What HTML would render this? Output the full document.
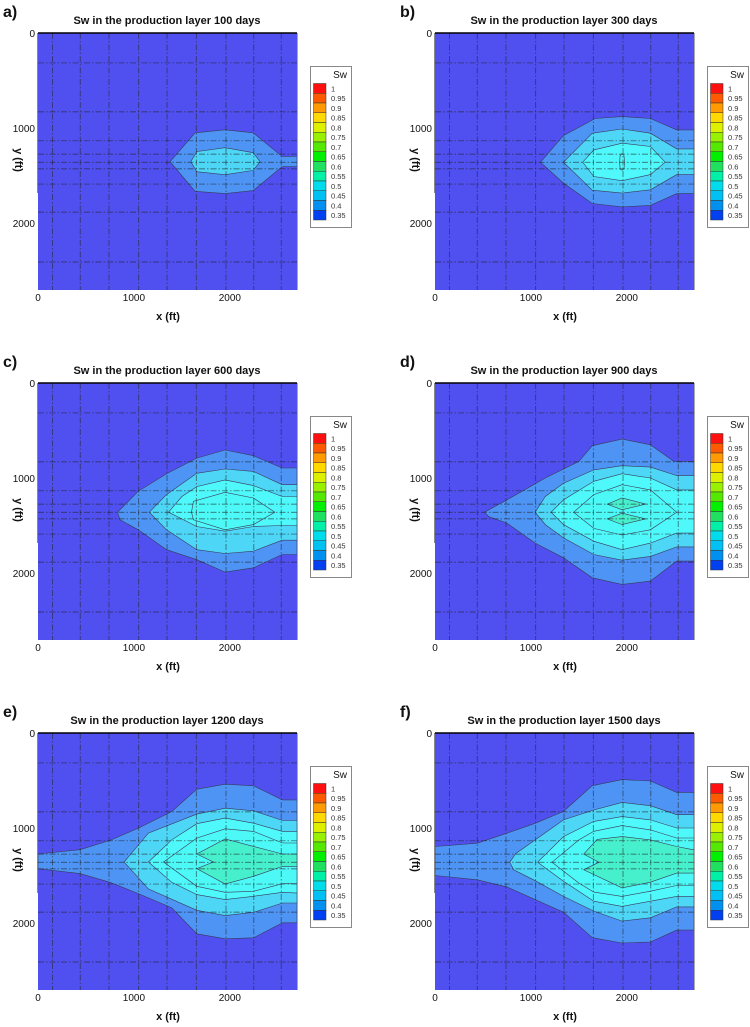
<!DOCTYPE html>
<html><head><meta charset="utf-8">
<style>
html,body{margin:0;padding:0;background:#fff;}
svg{display:block;}
text{font-family:"Liberation Sans","DejaVu Sans",sans-serif;}
</style></head>
<body>
<svg id="fig" width="750" height="1027" viewBox="0 0 750 1027" xmlns="http://www.w3.org/2000/svg"></svg>
<script>
// ---- data ----
const panelLetters = ["a)","b)","c)","d)","e)","f)"];
const panelDays = [100, 300, 600, 900, 1200, 1500];
const xTicks = [0, 1000, 2000];
const yTicks = [0, 1000, 2000];
const legendLevels = ["1","0.95","0.9","0.85","0.8","0.75","0.7","0.65","0.6","0.55","0.5","0.45","0.4","0.35"];
const legendColors = ["#ff1010","#ff5a00","#ff9a00","#ffd800","#ddf000","#99f000","#55e800","#00f000","#20e060","#00f0a8","#00dcec","#00c0f4","#0090f0","#0040f0"];
const levelColors = ["#5050f0","#4d94f5","#4dd6f6","#4ff8fa","#4cf9f6","#47f0cc"];
const gridX = [150,440,740,1050,1345,1650,1960,2250,2535];
const gridY = [315,830,1135,1275,1360,1430,1590,1885,2410];

const contoursA = [
 [1,[[1377,1355],[1638,1050],[1950,1019],[2243,1050],[2545,1300],[2700,1300],[2700,1407],[2545,1407],[2243,1659],[1950,1690],[1638,1666]]],
 [2,[[1593,1355],[1655,1248],[1950,1207],[2243,1260],[2315,1355],[2243,1446],[1950,1491],[1655,1460]]]
];
const contoursB = [
 [1,[[1100,1360],[1340,1080],[1670,900],[1950,880],[2245,900],[2520,1020],[2700,1020],[2700,1690],[2520,1690],[2245,1815],[1950,1830],[1640,1795],[1340,1580]]],
 [2,[[1340,1360],[1640,1055],[1950,1010],[2245,1055],[2520,1220],[2700,1220],[2700,1490],[2520,1490],[2245,1650],[1950,1685],[1640,1655]]],
 [3,[[1540,1360],[1655,1230],[1950,1160],[2245,1195],[2400,1360],[2245,1490],[1950,1555],[1655,1510]]],
 [4,[[1930,1290],[1950,1270],[1970,1290],[1975,1360],[1970,1430],[1950,1445],[1930,1430],[1925,1360]]]
];
const contoursC = [
 [1,[[830,1360],[1045,1140],[1340,955],[1655,790],[1950,705],[2245,765],[2545,895],[2700,895],[2700,1805],[2545,1805],[2245,1945],[1950,1990],[1655,1860],[1340,1755],[1045,1545],[855,1440]]],
 [2,[[1160,1360],[1340,1175],[1655,950],[1950,905],[2245,930],[2545,1070],[2700,1070],[2700,1655],[2545,1655],[2245,1770],[1950,1795],[1655,1755],[1340,1545]]],
 [3,[[1360,1360],[1500,1195],[1655,1090],[1950,1020],[2245,1080],[2545,1195],[2700,1195],[2700,1500],[2545,1500],[2245,1510],[1950,1560],[1655,1510]]],
 [4,[[1600,1360],[1620,1245],[1950,1150],[2245,1210],[2470,1360],[2245,1490],[1950,1545],[1620,1440]]]
];
const contoursD = [
 [1,[[515,1360],[750,1230],[1150,1000],[1500,825],[1640,660],[1950,590],[2245,650],[2490,825],[2700,825],[2700,1875],[2520,1875],[2245,2085],[1950,2120],[1640,2050],[1340,1840],[1045,1685],[750,1475],[560,1405]]],
 [2,[[1045,1360],[1150,1195],[1340,1055],[1655,915],[1950,870],[2245,885],[2520,975],[2700,975],[2700,1725],[2520,1725],[2245,1825],[1950,1865],[1655,1805],[1340,1630],[1150,1490]]],
 [3,[[1210,1360],[1340,1230],[1655,1035],[1950,955],[2245,1000],[2520,1125],[2700,1125],[2700,1580],[2520,1580],[2245,1685],[1950,1755],[1655,1665],[1340,1490]]],
 [4,[[1445,1360],[1655,1175],[1950,1070],[2245,1125],[2520,1360],[2245,1545],[1950,1600],[1655,1530]]],
 [5,[[1795,1275],[1950,1210],[2195,1275],[1950,1335]]],
 [5,[[1795,1430],[1950,1370],[2195,1430],[1950,1490]]]
];
const contoursE = [
 [1,[[0,1274],[438,1228],[751,1130],[1047,1001],[1395,826],[1655,591],[1951,539],[2247,556],[2549,704],[2700,704],[2700,1998],[2549,1998],[2247,2156],[1951,2166],[1655,2114],[1395,1841],[1047,1690],[751,1571],[438,1480],[0,1428]]],
 [2,[[898,1358],[1151,1054],[1655,854],[1951,791],[2247,819],[2549,921],[2700,921],[2700,1789],[2549,1789],[2247,1887],[1951,1922],[1655,1866],[1151,1641]]],
 [3,[[1151,1358],[1395,1124],[1655,955],[1951,896],[2247,949],[2549,1036],[2700,1036],[2700,1684],[2549,1677],[2247,1719],[1951,1754],[1655,1701],[1395,1571]]],
 [4,[[1308,1358],[1655,1106],[1951,1008],[2247,1036],[2549,1158],[2700,1158],[2700,1586],[2549,1586],[2247,1666],[1951,1677],[1655,1614]]],
 [5,[[1655,1274],[1829,1358],[1655,1428],[1951,1589],[2247,1508],[2549,1404],[2700,1404],[2700,1274],[2549,1274],[2247,1194],[1951,1116]]]
];
const contoursF = [
 [1,[[0,1195],[440,1160],[750,1055],[1045,950],[1340,825],[1640,555],[1950,490],[2245,505],[2520,625],[2700,625],[2700,2075],[2520,2075],[2245,2200],[1950,2210],[1640,2155],[1340,1885],[1045,1755],[750,1620],[440,1545],[0,1500]]],
 [2,[[780,1360],[840,1270],[1045,1125],[1340,915],[1655,810],[1950,730],[2245,765],[2520,860],[2700,860],[2700,1830],[2520,1830],[2245,1945],[1950,1980],[1655,1875],[1340,1720],[1045,1555],[820,1440]]],
 [3,[[1070,1360],[1340,1090],[1655,930],[1950,880],[2245,915],[2520,1000],[2700,1000],[2700,1720],[2520,1720],[2245,1770],[1950,1825],[1655,1770],[1340,1560]]],
 [4,[[1220,1360],[1500,1125],[1655,1035],[1950,975],[2245,1020],[2520,1105],[2700,1105],[2700,1605],[2520,1605],[2245,1665],[1950,1720],[1655,1675],[1500,1580]]],
 [5,[[1550,1275],[1710,1360],[1550,1440],[1950,1630],[2245,1570],[2520,1475],[2700,1475],[2700,1230],[2520,1195],[2245,1125],[1950,1090],[1690,1120]]]
];
const allContours = [contoursA, contoursB, contoursC, contoursD, contoursE, contoursF];

// ---- drawing ----
const NS = "http://www.w3.org/2000/svg";
const svg = document.getElementById("fig");
const PW = 259, PH = 257, XMAX = 2700, YMAX = 2705;
function mk(tag, attrs, parent){ const e=document.createElementNS(NS,tag); for(const k in attrs) e.setAttribute(k,attrs[k]); (parent||svg).appendChild(e); return e; }

function drawPanel(i){
  const ox = (i%2)*397, oy = Math.floor(i/2)*350;
  const x0 = 38+ox, y0 = 33+oy;
  const sx = v => x0 + v/XMAX*PW;
  const sy = v => y0 + v/YMAX*PH;
  const g = mk("g", {});
  
  

  const lt = mk("text",{x:ox+3,y:oy+17,"font-size":"16","font-weight":"bold","font-family":"DejaVu Sans, sans-serif",fill:"#111"},g);
  lt.textContent = panelLetters[i];
  
  

  const tt = mk("text",{x:ox+167,y:oy+24,"font-size":"11","font-weight":"bold","text-anchor":"middle",fill:"#111"},g);
  tt.textContent = "Sw in the production layer  " + panelDays[i] + " days";
  
  

  const bg = mk("rect",{x:x0,y:y0,width:PW,height:PH,fill:levelColors[0]},g);
  
  

  allContours[i].forEach(c => {
    const p = mk("polygon",{points:c[1].map(q=>sx(q[0]).toFixed(1)+","+sy(q[1]).toFixed(1)).join(" "),fill:levelColors[c[0]],stroke:"#3a3a5a","stroke-width":"0.6"},g);
    
    
  });

  gridX.forEach(v => {
    const l = mk("line",{x1:sx(v),x2:sx(v),y1:y0,y2:y0+PH,stroke:"#222","stroke-width":"0.7","stroke-dasharray":"6,2,1.5,2","stroke-opacity":"0.75"},g);
    
    
  });
  gridY.forEach(v => {
    const l = mk("line",{x1:x0,x2:x0+PW,y1:sy(v),y2:sy(v),stroke:"#222","stroke-width":"0.7","stroke-dasharray":"6,2,1.5,2","stroke-opacity":"0.75"},g);
    
    
  });

  const top = mk("line",{x1:x0,x2:x0+PW,y1:y0,y2:y0,stroke:"#000","stroke-width":"1.5"},g);
  
  
  const lax = mk("line",{x1:x0-0.5,x2:x0-0.5,y1:y0,y2:y0+160,stroke:"#888","stroke-width":"1"},g);
  
  
  const rax = mk("line",{x1:x0+PW+0.5,x2:x0+PW+0.5,y1:y0,y2:y0+PH,stroke:"#aaa","stroke-width":"1"},g);
  
  

  xTicks.forEach(v => {
    const t = mk("text",{x:sx(v),y:y0+PH+11,"font-size":"10","text-anchor":"middle",fill:"#111"},g);
    t.textContent = v;
    
    
  });
  yTicks.forEach(v => {
    const t = mk("text",{x:x0-3,y:sy(v)+4,"font-size":"10","text-anchor":"end",fill:"#111"},g);
    t.textContent = v;
    
    
  });

  const xl = mk("text",{x:ox+168,y:oy+320,"font-size":"11","font-weight":"bold","text-anchor":"middle",fill:"#111"},g);
  xl.textContent = "x (ft)";
  
  
  const yl = mk("text",{x:0,y:0,"font-size":"11","font-weight":"bold","text-anchor":"middle",fill:"#111",transform:`translate(${ox+15},${oy+160}) rotate(90)`},g);
  yl.textContent = "y (ft)";
  
  

  // legend
  const lg = mk("g",{},g);
  
  
  const lb = mk("rect",{x:ox+310.5,y:oy+66.5,width:41,height:161,fill:"#fff",stroke:"#888","stroke-width":"1"},lg);
  
  
  const lh = mk("text",{x:ox+347,y:oy+78,"font-size":"10","text-anchor":"end",fill:"#111"},lg);
  lh.textContent = "Sw";
  
  
  const sh = 9.75, sy0 = oy+83.5;
  legendLevels.forEach((lab, k) => {
    const r = mk("rect",{x:ox+313.5,y:sy0+k*sh,width:12.5,height:sh,fill:legendColors[k],stroke:"#333","stroke-width":"0.5"},lg);
    
    
    const t = mk("text",{x:ox+331,y:sy0+k*sh+sh/2+3,"font-size":"7.5",fill:"#333"},lg);
    t.textContent = lab;
    
    
  });
}
for (let i=0;i<6;i++) drawPanel(i);
</script>
</body></html>
